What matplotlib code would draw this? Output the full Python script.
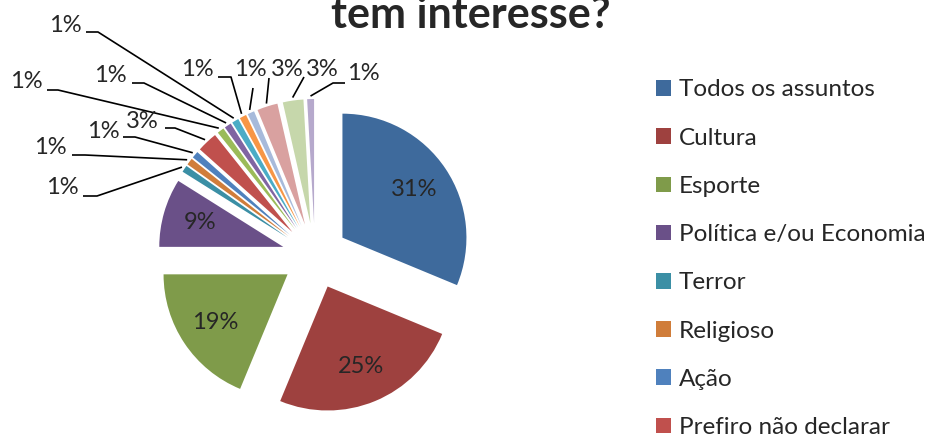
import matplotlib
matplotlib.use("Agg")
import matplotlib.pyplot as plt
import numpy as np
from matplotlib.patches import Patch

# ---------------- data ----------------
categories = ["Todos os assuntos", "Cultura", "Esporte", "Política e/ou Economia",
              "Terror", "Religioso", "Ação", "Prefiro não declarar",
              "Romance", "Comédia", "Ficção", "Aventura",
              "Suspense", "Tecnologia", "Outros", "Nenhum"]
counts = [35, 28, 21, 10, 1, 1, 1, 3, 1, 1, 1, 1, 1, 3, 3, 1]
colors = ["#3E6A9C", "#9E413F", "#7F9B4A", "#6A5088", "#3B8FA5", "#D07D3A",
          "#4F81BD", "#C0504D", "#9BBB59", "#8064A2", "#4BACC6", "#F79646",
          "#A7BADB", "#D9A1A0", "#C6D7AB", "#B6A9CC"]
title_text = "tem interesse?"

# ---------------- layout (screen pixels, y down) ----------------
W, H = 931, 434
CX, CY = 315, 256
R = 124
EXP = 33
PCT_DIST = 0.70
# small-slice labels: text centre, elbow point, stub end
small_layout = [
    ((62, 188), (97, 196), (83, 196)),
    ((50, 148), (85, 155), (72, 155)),
    ((103, 131), (135, 137), (123, 137)),
    ((142, 121), (175, 128), (165, 128)),
    ((26, 82), (58, 90), (47, 90)),
    ((110, 76), (144, 83), (132, 83)),
    ((65, 25), (98, 32), (86, 32)),
    ((197, 69), (231, 77), (218, 77)),
    ((250, 69), (253, 88), (253, 88)),
    ((287, 69), (269, 78), (269, 78)),
    ((322, 69), (304, 77), (304, 77)),
    ((363, 73), (333, 83), (345, 83)),
]

FONT = ["Lato", "DejaVu Sans"]
plt.rcParams["font.family"] = FONT

fig = plt.figure(figsize=(W / 100, H / 100), dpi=100)
ax = fig.add_axes([0, 0, 1, 1])

def sy(y):
    return H - y

wedges, _ = ax.pie(counts, colors=colors, startangle=90, counterclock=False,
                   radius=R, center=(CX, sy(CY)), explode=[EXP] * len(counts),
                   wedgeprops=dict(linewidth=0))
ax.set_xlim(0, W)
ax.set_ylim(0, H)
ax.set_aspect("equal")
ax.axis("off")

total = float(sum(counts))
labels = [f"{c / total * 100:.0f}%" for c in counts]

LBL_FS = 17
small_i = 0
for i, w in enumerate(wedges):
    mid = np.deg2rad((w.theta1 + w.theta2) / 2)
    wx, wy = w.center
    if i < 4:
        ax.text(wx + PCT_DIST * R * np.cos(mid), wy + PCT_DIST * R * np.sin(mid),
                labels[i], ha="center", va="center", fontsize=LBL_FS, color="#262626")
    else:
        (tx, ty), (ex, ey), (sx, sy_) = small_layout[small_i]
        small_i += 1
        px = wx + (R + 3) * np.cos(mid)
        py = wy + (R + 3) * np.sin(mid)
        ax.plot([px, ex, sx], [py, sy(ey), sy(sy_)], color="black", lw=1.2,
                solid_capstyle="butt")
        ax.text(tx, sy(ty), labels[i], ha="center", va="center", fontsize=LBL_FS,
                color="#262626")

ax.text(471, sy(28), title_text, ha="center", va="baseline", fontsize=31,
        fontweight="bold", color="#262626")

handles = [Patch(facecolor=c, edgecolor="none") for c in colors]
fs = 17.5
fs_px = fs * 100 / 72
leg = fig.legend(handles, categories, loc="upper left",
                 bbox_to_anchor=(656 / W, 1 - 79.5 / H),
                 frameon=False, fontsize=fs, borderpad=0, borderaxespad=0,
                 handlelength=15 / fs_px, handleheight=15 / fs_px,
                 handletextpad=0.33, labelspacing=1.12, labelcolor="#262626")

fig.savefig("out.png", dpi=100)
